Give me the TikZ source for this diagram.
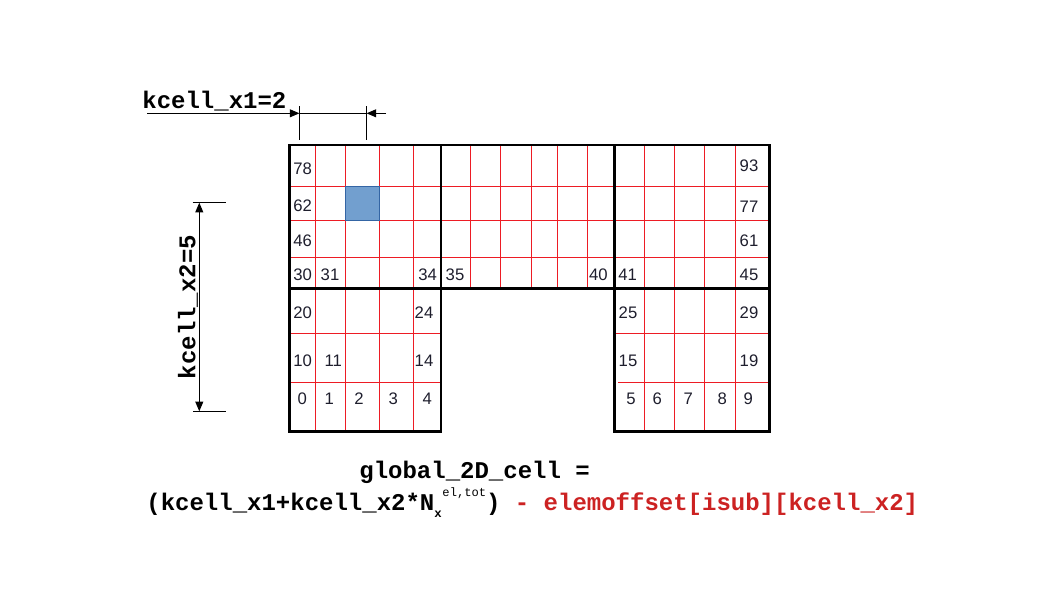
\documentclass[tikz,border=0pt]{standalone}
\usepackage{fontspec}
\setmainfont{Liberation Sans}
\newfontfamily\codefont{Liberation Mono}
\usetikzlibrary{arrows.meta}
\definecolor{gridred}{RGB}{237,28,36}
\definecolor{cellblue}{RGB}{114,159,207}
\definecolor{cellborder}{RGB}{52,101,164}
\definecolor{numcol}{RGB}{30,30,45}
\definecolor{offsetred}{RGB}{204,34,34}

\begin{document}
\begin{tikzpicture}[
    x=0.02cm, y=-0.02cm,
    num/.style={inner sep=0pt, font=\fontsize{9.5}{11}\selectfont, text=numcol},
    code/.style={inner sep=0pt, font=\codefont\bfseries\fontsize{13.66}{16}\selectfont},
    redline/.style={draw=gridred, line width=0.6pt},
    thickline/.style={draw=black, line width=1.7pt},
    dimline/.style={draw=black, line width=0.6pt},
    dimarrow/.style={dimline, -{Triangle[length=5.5pt, width=4.5pt]}}
]
    \useasboundingbox (0,0) rectangle (1058,595);

    % Red cell lines
    \foreach \x in {315.7,345.7,379.3,413.7,644.3,674.3,704.7,735.3}
        \draw[redline] (\x,145) -- (\x,431.7);
    \foreach \x in {470.3,500.3,531.3,557.3,587.3}
        \draw[redline] (\x,145) -- (\x,288.5);
    \foreach \y in {186.7,220.3,257.3}
        \draw[redline] (289.5,\y) -- (769.3,\y);
    \draw[redline] (289.5,333.3) -- (441,333.3);
    \draw[redline] (289.5,382.3) -- (441,382.3);
    \draw[redline] (614.5,333.3) -- (769.3,333.3);
    \draw[redline] (618,382.3) -- (769.3,382.3);

    % Selected cell
    \draw[fill=cellblue, draw=cellborder, line width=0.6pt] (345.7,186.7) rectangle (379.3,220.3);

    % Subdomain outlines
    \draw[thickline] (289.5,145) -- (769.3,145) -- (769.3,431.7) -- (614.5,431.7)
        -- (614.5,288.5) -- (441,288.5) -- (441,431.7) -- (289.5,431.7) -- cycle;
    \draw[thickline] (289.5,288.5) -- (441,288.5);
    \draw[thickline] (614.5,288.5) -- (769.3,288.5);
    \draw[thickline] (441,145) -- (441,288.5);
    \draw[thickline] (614.5,145) -- (614.5,288.5);

    % Cell numbers
    \foreach \n/\x/\y in {0/302.3/399, 1/329.3/399, 2/359/399, 3/393.3/399, 4/427.3/399,
        5/631/399, 6/657.3/399, 7/688.3/399, 8/722.3/399, 9/748.3/399,
        10/302.7/361, 11/333.3/361, 14/424/361, 15/628/361, 19/749/361,
        20/302.7/312.3, 24/424/312.3, 25/628/312.3, 29/749/312.3,
        30/302.7/274.5, 31/330/274.5, 34/427.7/274.5, 35/455/274.5,
        40/598.3/274.5, 41/627.7/274.5, 45/749/274.5,
        46/302.7/240.3, 61/749/240.5, 62/302.7/206, 77/749/206.7,
        78/302.7/168.5, 93/749/165.5}
        \node[num] (c\n) at (\x,\y) {\n};

    % kcell_x1 dimension
    \node[code, anchor=base west] (x1label) at (142,108) {kcell\_x1=2};
    \coordinate (x1tail) at (147,113.3);
    \coordinate (x1left) at (299.5,113.3);
    \coordinate (x1right) at (366.5,113.3);
    \coordinate (x1rtail) at (386,113.3);
    \draw[dimline] (299.5,106) -- (299.5,140);
    \draw[dimline] (366.5,106) -- (366.5,140);
    \draw[dimline] (x1left) -- (x1right);
    \draw[dimarrow] (x1tail) -- (x1left);
    \draw[dimarrow] (x1rtail) -- (x1right);

    % kcell_x2 dimension
    \coordinate (x2top) at (199.3,202.7);
    \coordinate (x2bot) at (199.3,411.3);
    \draw[dimline] (192.7,202.7) -- (226,202.7);
    \draw[dimline] (193,411.3) -- (226,411.3);
    \draw[dimline, {Triangle[length=5.5pt, width=4.5pt]}-{Triangle[length=5.5pt, width=4.5pt]}] (x2top) -- (x2bot);
    \node[code, rotate=90] (x2label) at (188,307) {kcell\_x2=5};

    % Formula
    \node[code, anchor=base west] (formtop) at (359,478) {global\_2D\_cell =};
    \node[code, anchor=base west] (formula) at (146,510.5) {(kcell\_x1+kcell\_x2*N\raisebox{-3.8pt}{\fontsize{7}{8}\selectfont x}\hspace{0.4pt}\raisebox{7.9pt}{\mdseries\fontsize{6.9}{8}\selectfont el,tot})\ \textcolor{offsetred}{- elemoffset[isub][kcell\_x2]}};
\end{tikzpicture}
\end{document}
